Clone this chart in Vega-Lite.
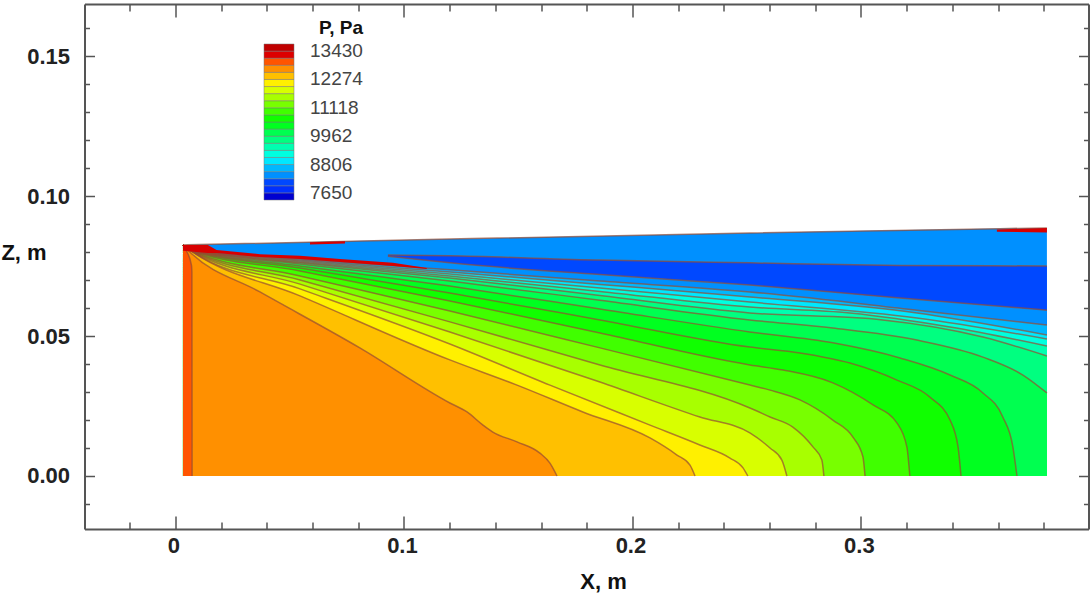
{
"$schema":"https://vega.github.io/schema/vega-lite/v6.json",
"width":1004,"height":525,"autosize":"none",
"padding":{"left":84.5,"top":4,"right":1.5,"bottom":67},
"background":"white",
"config":{"view":{"stroke":null}},
"datasets":{
"contours":[
{"c":"T","P":8372,"x":0.0033,"z":0.0826,"z2":0},{"c":"T","P":8372,"x":0.1201,"z":0.0847,"z2":0},{"c":"T","P":8372,"x":0.2514,"z":0.0869,"z2":0},{"c":"T","P":8372,"x":0.3814,"z":0.0887,"z2":0},
{"c":"C18","P":8083,"x":0.0930,"z":0.0790,"z2":0},{"c":"C18","P":8083,"x":0.1201,"z":0.0787,"z2":0},{"c":"C18","P":8083,"x":0.1858,"z":0.0772,"z2":0},{"c":"C18","P":8083,"x":0.2514,"z":0.0762,"z2":0},{"c":"C18","P":8083,"x":0.3171,"z":0.0753,"z2":0},{"c":"C18","P":8083,"x":0.3814,"z":0.0751,"z2":0},
{"c":"C17","P":8373,"x":0.0930,"z":0.0786,"z2":0},{"c":"C17","P":8373,"x":0.1201,"z":0.0762,"z2":0},{"c":"C17","P":8373,"x":0.1858,"z":0.0720,"z2":0},{"c":"C17","P":8373,"x":0.2514,"z":0.0683,"z2":0},{"c":"C17","P":8373,"x":0.3171,"z":0.0636,"z2":0},{"c":"C17","P":8373,"x":0.3814,"z":0.0593,"z2":0},
{"c":"C16","P":8661,"x":0.0033,"z":0.0826,"z2":0},{"c":"C16","P":8661,"x":0.0063,"z":0.0808,"z2":0},{"c":"C16","P":8661,"x":0.0545,"z":0.0776,"z2":0},{"c":"C16","P":8661,"x":0.1201,"z":0.0737,"z2":0},{"c":"C16","P":8661,"x":0.1858,"z":0.0697,"z2":0},{"c":"C16","P":8661,"x":0.2514,"z":0.0658,"z2":0},{"c":"C16","P":8661,"x":0.3245,"z":0.0593,"z2":0},{"c":"C16","P":8661,"x":0.3814,"z":0.0540,"z2":0},
{"c":"C15","P":8950,"x":0.0033,"z":0.0826,"z2":0},{"c":"C15","P":8950,"x":0.0063,"z":0.0808,"z2":0},{"c":"C15","P":8950,"x":0.0545,"z":0.0772,"z2":0},{"c":"C15","P":8950,"x":0.1201,"z":0.0729,"z2":0},{"c":"C15","P":8950,"x":0.1858,"z":0.0685,"z2":0},{"c":"C15","P":8950,"x":0.2514,"z":0.0640,"z2":0},{"c":"C15","P":8950,"x":0.3245,"z":0.0583,"z2":0},{"c":"C15","P":8950,"x":0.3814,"z":0.0504,"z2":0},
{"c":"C14","P":9239,"x":0.0033,"z":0.0826,"z2":0},{"c":"C14","P":9239,"x":0.0063,"z":0.0808,"z2":0},{"c":"C14","P":9239,"x":0.0545,"z":0.0769,"z2":0},{"c":"C14","P":9239,"x":0.1201,"z":0.0722,"z2":0},{"c":"C14","P":9239,"x":0.1858,"z":0.0672,"z2":0},{"c":"C14","P":9239,"x":0.2514,"z":0.0622,"z2":0},{"c":"C14","P":9239,"x":0.3245,"z":0.0565,"z2":0},{"c":"C14","P":9239,"x":0.3814,"z":0.0490,"z2":0},
{"c":"C13","P":9528,"x":0.0033,"z":0.0826,"z2":0},{"c":"C13","P":9528,"x":0.0063,"z":0.0808,"z2":0},{"c":"C13","P":9528,"x":0.0545,"z":0.0765,"z2":0},{"c":"C13","P":9528,"x":0.1201,"z":0.0715,"z2":0},{"c":"C13","P":9528,"x":0.1858,"z":0.0660,"z2":0},{"c":"C13","P":9528,"x":0.2514,"z":0.0604,"z2":0},{"c":"C13","P":9528,"x":0.2952,"z":0.0583,"z2":0},{"c":"C13","P":9528,"x":0.3390,"z":0.0533,"z2":0},{"c":"C13","P":9528,"x":0.3814,"z":0.0465,"z2":0},
{"c":"C12","P":9817,"x":0.0033,"z":0.0826,"z2":0},{"c":"C12","P":9817,"x":0.0063,"z":0.0808,"z2":0},{"c":"C12","P":9817,"x":0.0545,"z":0.0762,"z2":0},{"c":"C12","P":9817,"x":0.1201,"z":0.0708,"z2":0},{"c":"C12","P":9817,"x":0.1858,"z":0.0645,"z2":0},{"c":"C12","P":9817,"x":0.2514,"z":0.0583,"z2":0},{"c":"C12","P":9817,"x":0.3096,"z":0.0558,"z2":0},{"c":"C12","P":9817,"x":0.3534,"z":0.0497,"z2":0},{"c":"C12","P":9817,"x":0.3814,"z":0.0429,"z2":0},
{"c":"C11","P":10106,"x":0.0033,"z":0.0826,"z2":0},{"c":"C11","P":10106,"x":0.0063,"z":0.0808,"z2":0},{"c":"C11","P":10106,"x":0.0545,"z":0.0758,"z2":0},{"c":"C11","P":10106,"x":0.1201,"z":0.0697,"z2":0},{"c":"C11","P":10106,"x":0.1858,"z":0.0628,"z2":0},{"c":"C11","P":10106,"x":0.2514,"z":0.0558,"z2":0},{"c":"C11","P":10106,"x":0.2877,"z":0.0529,"z2":0},{"c":"C11","P":10106,"x":0.3245,"z":0.0486,"z2":0},{"c":"C11","P":10106,"x":0.3534,"z":0.0425,"z2":0},{"c":"C11","P":10106,"x":0.3709,"z":0.0361,"z2":0},{"c":"C11","P":10106,"x":0.3814,"z":0.0297,"z2":0},
{"c":"C10","P":10395,"x":0.0033,"z":0.0826,"z2":0},{"c":"C10","P":10395,"x":0.0063,"z":0.0808,"z2":0},{"c":"C10","P":10395,"x":0.0545,"z":0.0751,"z2":0},{"c":"C10","P":10395,"x":0.1201,"z":0.0679,"z2":0},{"c":"C10","P":10395,"x":0.1858,"z":0.0597,"z2":0},{"c":"C10","P":10395,"x":0.2514,"z":0.0515,"z2":0},{"c":"C10","P":10395,"x":0.2877,"z":0.0476,"z2":0},{"c":"C10","P":10395,"x":0.3171,"z":0.0422,"z2":0},{"c":"C10","P":10395,"x":0.3390,"z":0.0361,"z2":0},{"c":"C10","P":10395,"x":0.3534,"z":0.0297,"z2":0},{"c":"C10","P":10395,"x":0.3621,"z":0.0211,"z2":0},{"c":"C10","P":10395,"x":0.3665,"z":0.0104,"z2":0},{"c":"C10","P":10395,"x":0.3683,"z":0,"z2":0},
{"c":"C09","P":10684,"x":0.0033,"z":0.0826,"z2":0},{"c":"C09","P":10684,"x":0.0063,"z":0.0808,"z2":0},{"c":"C09","P":10684,"x":0.0545,"z":0.0744,"z2":0},{"c":"C09","P":10684,"x":0.1201,"z":0.0654,"z2":0},{"c":"C09","P":10684,"x":0.1858,"z":0.0558,"z2":0},{"c":"C09","P":10684,"x":0.2514,"z":0.0461,"z2":0},{"c":"C09","P":10684,"x":0.2733,"z":0.0440,"z2":0},{"c":"C09","P":10684,"x":0.2952,"z":0.0404,"z2":0},{"c":"C09","P":10684,"x":0.3158,"z":0.0343,"z2":0},{"c":"C09","P":10684,"x":0.3302,"z":0.0282,"z2":0},{"c":"C09","P":10684,"x":0.3390,"z":0.0200,"z2":0},{"c":"C09","P":10684,"x":0.3425,"z":0.0104,"z2":0},{"c":"C09","P":10684,"x":0.3438,"z":0,"z2":0},
{"c":"C08","P":10973,"x":0.0033,"z":0.0826,"z2":0},{"c":"C08","P":10973,"x":0.0063,"z":0.0808,"z2":0},{"c":"C08","P":10973,"x":0.0545,"z":0.0733,"z2":0},{"c":"C08","P":10973,"x":0.1201,"z":0.0626,"z2":0},{"c":"C08","P":10973,"x":0.1858,"z":0.0511,"z2":0},{"c":"C08","P":10973,"x":0.2514,"z":0.0397,"z2":0},{"c":"C08","P":10973,"x":0.2659,"z":0.0379,"z2":0},{"c":"C08","P":10973,"x":0.2877,"z":0.0333,"z2":0},{"c":"C08","P":10973,"x":0.3053,"z":0.0254,"z2":0},{"c":"C08","P":10973,"x":0.3158,"z":0.0189,"z2":0},{"c":"C08","P":10973,"x":0.3201,"z":0.0104,"z2":0},{"c":"C08","P":10973,"x":0.3214,"z":0,"z2":0},
{"c":"C07","P":11262,"x":0.0033,"z":0.0826,"z2":0},{"c":"C07","P":11262,"x":0.0063,"z":0.0808,"z2":0},{"c":"C07","P":11262,"x":0.0545,"z":0.0715,"z2":0},{"c":"C07","P":11262,"x":0.1201,"z":0.0590,"z2":0},{"c":"C07","P":11262,"x":0.1858,"z":0.0458,"z2":0},{"c":"C07","P":11262,"x":0.2514,"z":0.0325,"z2":0},{"c":"C07","P":11262,"x":0.2602,"z":0.0307,"z2":0},{"c":"C07","P":11262,"x":0.2733,"z":0.0272,"z2":0},{"c":"C07","P":11262,"x":0.2877,"z":0.0200,"z2":0},{"c":"C07","P":11262,"x":0.2965,"z":0.0139,"z2":0},{"c":"C07","P":11262,"x":0.3009,"z":0.0068,"z2":0},{"c":"C07","P":11262,"x":0.3018,"z":0,"z2":0},
{"c":"C06","P":11551,"x":0.0033,"z":0.0826,"z2":0},{"c":"C06","P":11551,"x":0.0063,"z":0.0808,"z2":0},{"c":"C06","P":11551,"x":0.0545,"z":0.0701,"z2":0},{"c":"C06","P":11551,"x":0.1201,"z":0.0551,"z2":0},{"c":"C06","P":11551,"x":0.1858,"z":0.0397,"z2":0},{"c":"C06","P":11551,"x":0.2514,"z":0.0243,"z2":0},{"c":"C06","P":11551,"x":0.2602,"z":0.0211,"z2":0},{"c":"C06","P":11551,"x":0.2702,"z":0.0175,"z2":0},{"c":"C06","P":11551,"x":0.2790,"z":0.0104,"z2":0},{"c":"C06","P":11551,"x":0.2829,"z":0.0057,"z2":0},{"c":"C06","P":11551,"x":0.2838,"z":0,"z2":0},
{"c":"C05","P":11840,"x":0.0033,"z":0.0826,"z2":0},{"c":"C05","P":11840,"x":0.0063,"z":0.0808,"z2":0},{"c":"C05","P":11840,"x":0.0545,"z":0.0686,"z2":0},{"c":"C05","P":11840,"x":0.1201,"z":0.0515,"z2":0},{"c":"C05","P":11840,"x":0.1858,"z":0.0336,"z2":0},{"c":"C05","P":11840,"x":0.2295,"z":0.0211,"z2":0},{"c":"C05","P":11840,"x":0.2514,"z":0.0154,"z2":0},{"c":"C05","P":11840,"x":0.2602,"z":0.0100,"z2":0},{"c":"C05","P":11840,"x":0.2654,"z":0.0057,"z2":0},{"c":"C05","P":11840,"x":0.2676,"z":0,"z2":0},
{"c":"C04","P":12130,"x":0.0033,"z":0.0826,"z2":0},{"c":"C04","P":12130,"x":0.0063,"z":0.0808,"z2":0},{"c":"C04","P":12130,"x":0.0545,"z":0.0669,"z2":0},{"c":"C04","P":12130,"x":0.1201,"z":0.0472,"z2":0},{"c":"C04","P":12130,"x":0.1639,"z":0.0325,"z2":0},{"c":"C04","P":12130,"x":0.2077,"z":0.0182,"z2":0},{"c":"C04","P":12130,"x":0.2295,"z":0.0111,"z2":0},{"c":"C04","P":12130,"x":0.2427,"z":0.0064,"z2":0},{"c":"C04","P":12130,"x":0.2484,"z":0.0029,"z2":0},{"c":"C04","P":12130,"x":0.2505,"z":0,"z2":0},
{"c":"C03","P":12418,"x":0.0033,"z":0.0826,"z2":0},{"c":"C03","P":12418,"x":0.0063,"z":0.0808,"z2":0},{"c":"C03","P":12418,"x":0.0545,"z":0.0644,"z2":0},{"c":"C03","P":12418,"x":0.1201,"z":0.0415,"z2":0},{"c":"C03","P":12418,"x":0.1495,"z":0.0325,"z2":0},{"c":"C03","P":12418,"x":0.1783,"z":0.0229,"z2":0},{"c":"C03","P":12418,"x":0.2077,"z":0.0136,"z2":0},{"c":"C03","P":12418,"x":0.2195,"z":0.0075,"z2":0},{"c":"C03","P":12418,"x":0.2252,"z":0.0039,"z2":0},{"c":"C03","P":12418,"x":0.2274,"z":0,"z2":0},
{"c":"C02","P":12707,"x":0.0033,"z":0.0826,"z2":0},{"c":"C02","P":12707,"x":0.0063,"z":0.0801,"z2":0},{"c":"C02","P":12707,"x":0.0370,"z":0.0658,"z2":0},{"c":"C02","P":12707,"x":0.0807,"z":0.0458,"z2":0},{"c":"C02","P":12707,"x":0.1201,"z":0.0261,"z2":0},{"c":"C02","P":12707,"x":0.1276,"z":0.0229,"z2":0},{"c":"C02","P":12707,"x":0.1346,"z":0.0182,"z2":0},{"c":"C02","P":12707,"x":0.1389,"z":0.0157,"z2":0},{"c":"C02","P":12707,"x":0.1495,"z":0.0122,"z2":0},{"c":"C02","P":12707,"x":0.1595,"z":0.0082,"z2":0},{"c":"C02","P":12707,"x":0.1639,"z":0.0046,"z2":0},{"c":"C02","P":12707,"x":0.1670,"z":0,"z2":0},
{"c":"C01","P":12996,"x":0.0033,"z":0.0826,"z2":0},{"c":"C01","P":12996,"x":0.0046,"z":0.0808,"z2":0},{"c":"C01","P":12996,"x":0.0070,"z":0.0754,"z2":0},{"c":"C01","P":12996,"x":0.0072,"z":0.0729,"z2":0},{"c":"C01","P":12996,"x":0.0073,"z":0,"z2":0}
],
"patches":[
{"c":"R1","P":13285,"x":0.0033,"z":0.0826,"z2":0.0805},{"c":"R1","P":13285,"x":0.0142,"z":0.0826,"z2":0.0797},{"c":"R1","P":13285,"x":0.0180,"z":0.0808,"z2":0.0797},{"c":"R1","P":13285,"x":0.0370,"z":0.0793,"z2":0.0783},{"c":"R1","P":13285,"x":0.0545,"z":0.0787,"z2":0.0776},{"c":"R1","P":13285,"x":0.0720,"z":0.0776,"z2":0.0765},{"c":"R1","P":13285,"x":0.0952,"z":0.0762,"z2":0.0751},{"c":"R1","P":13285,"x":0.1100,"z":0.0744,"z2":0.0740},
{"c":"R2","P":13285,"x":0.0589,"z":0.0836,"z2":0.0828},{"c":"R2","P":13285,"x":0.0742,"z":0.0839,"z2":0.0831},
{"c":"R3","P":13285,"x":0.3595,"z":0.0881,"z2":0.0873},{"c":"R3","P":13285,"x":0.3814,"z":0.0887,"z2":0.0871}
]
},
"layer":[
{"data":{"name":"contours"},
 "mark":{"type":"area","interpolate":"monotone"},
 "encoding":{
  "x":{"field":"x","type":"quantitative","scale":{"domain":[-0.0398,0.3996],"nice":false,"zero":false},
   "axis":{"orient":"bottom","title":"X, m","titleX":518.5,"titleY":52,"titleAlign":"center","titleBaseline":"middle","titleFont":"Liberation Sans","titleFontSize":22,"titleFontWeight":"bold","titleColor":"#111",
    "values":[-0.02,0,0.02,0.04,0.06,0.08,0.1,0.12,0.14,0.16,0.18,0.2,0.22,0.24,0.26,0.28,0.3,0.32,0.34,0.36,0.38],
    "grid":false,"domainColor":"#555","domainWidth":2,"tickColor":"#555","tickWidth":1.5,
    "tickSize":{"condition":{"test":"abs(datum.value*10-round(datum.value*10))<0.001","value":-13},"value":-7},
    "labelExpr":"abs(datum.value*10-round(datum.value*10))<0.001 ? format(datum.value,'~g') : ''",
    "labelOverlap":false,"labelFont":"Liberation Sans","labelFontSize":22,"labelFontWeight":"bold","labelColor":"#222","labelPadding":19,"labelOffset":-2,"labelFlush":false}},
  "y":{"field":"z","type":"quantitative","scale":{"domain":[-0.01895,0.16875],"nice":false,"zero":false},
   "axis":{"orient":"left","title":"Z, m","titleX":-61,"titleY":248,"titleAngle":0,"titleAlign":"center","titleBaseline":"middle","titleFont":"Liberation Sans","titleFontSize":22,"titleFontWeight":"bold","titleColor":"#111",
    "values":[-0.01,0,0.01,0.02,0.03,0.04,0.05,0.06,0.07,0.08,0.09,0.1,0.11,0.12,0.13,0.14,0.15,0.16],
    "grid":false,"domainColor":"#555","domainWidth":2,"tickColor":"#555","tickWidth":1.5,
    "tickSize":{"condition":{"test":"abs(datum.value*20-round(datum.value*20))<0.001","value":-10},"value":-5},
    "labelExpr":"abs(datum.value*20-round(datum.value*20))<0.001 ? format(datum.value,'.2f') : ''",
    "labelOverlap":false,"labelFont":"Liberation Sans","labelFontSize":22,"labelFontWeight":"bold","labelColor":"#222","labelPadding":25,"labelFlush":false}},
  "y2":{"field":"z2"},
  "detail":{"field":"c"},
  "color":{"field":"P","type":"quantitative",
   "scale":{"type":"threshold","domain":[7650,7939,8228,8517,8806,9095,9384,9673,9962,10251,10540,10829,11118,11407,11696,11985,12274,12563,12852,13141,13430],
    "range":["#0000d0","#0030ff","#0048ff","#0090ff","#00b8ff","#00e8ff","#00ffe0","#00ffb0","#00ff80","#00ff50","#00ff20","#10ff00","#40ff00","#78ff00","#a8ff00","#d8ff00","#fff000","#ffc000","#ff9000","#ff5500","#dd0000","#c00000"]},
   "legend":{"type":"gradient","orient":"none","legendX":179.5,"legendY":15,"title":"P, Pa","titleFont":"Liberation Sans","titleFontSize":19,"titleFontWeight":"bold","titleColor":"#111","titleAnchor":"end","titlePadding":6,
    "gradientLength":156,"gradientThickness":30,"gradientStrokeColor":"#777","gradientStrokeWidth":0.5,
    "labelFont":"Liberation Sans","labelFontSize":19,"labelColor":"#444","labelOffset":16,"labelOverlap":false,
    "labelExpr":"indexof(['7650','8806','9962','11118','12274','13430'],datum.value+'')>=0 ? datum.value+'' : ''"}}
 }},
{"data":{"name":"contours"},
 "mark":{"type":"line","stroke":"#964b32","strokeWidth":1.5,"opacity":0.7,"interpolate":"monotone"},
 "encoding":{
  "x":{"field":"x","type":"quantitative","axis":{"orient":"top","title":null,"labels":false,"grid":false,"domainColor":"#555","domainWidth":2,"tickColor":"#555","tickWidth":1.5,
    "values":[-0.02,0,0.02,0.04,0.06,0.08,0.1,0.12,0.14,0.16,0.18,0.2,0.22,0.24,0.26,0.28,0.3,0.32,0.34,0.36,0.38],
    "tickSize":{"condition":{"test":"abs(datum.value*10-round(datum.value*10))<0.001","value":-13},"value":-7}}},
  "y":{"field":"z","type":"quantitative","axis":{"orient":"right","title":null,"labels":false,"grid":false,"domainColor":"#555","domainWidth":2,"tickColor":"#555","tickWidth":1.5,
    "values":[-0.01,0,0.01,0.02,0.03,0.04,0.05,0.06,0.07,0.08,0.09,0.1,0.11,0.12,0.13,0.14,0.15,0.16],
    "tickSize":{"condition":{"test":"abs(datum.value*20-round(datum.value*20))<0.001","value":-10},"value":-5}}},
  "detail":{"field":"c"}
 }},
{"data":{"name":"patches"},
 "mark":{"type":"area","interpolate":"linear","fill":"#d80000","opacity":1},
 "encoding":{
  "x":{"field":"x","type":"quantitative","axis":null},
  "y":{"field":"z","type":"quantitative","axis":null},
  "y2":{"field":"z2"},
  "detail":{"field":"c"}
 }}
],
"resolve":{"axis":{"x":"independent","y":"independent"}}
}
